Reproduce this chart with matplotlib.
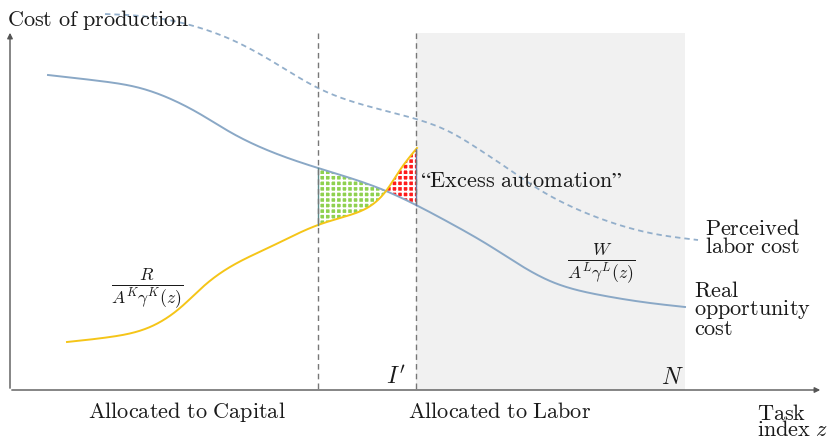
import numpy as np
import matplotlib
matplotlib.use("Agg")
import matplotlib.pyplot as plt

plt.rcParams['mathtext.fontset'] = 'cm'
plt.rcParams['hatch.linewidth'] = 1.4

# Data (in chart units: x = task index, y = cost; y measured downward from top as in picture)
real_x = [48, 100, 140, 173, 200, 230, 260, 318, 386, 416, 450, 490, 520, 550, 600, 650, 685]
real_y = [75, 81, 88, 100, 114, 132, 147, 168, 191, 205, 223, 246, 265, 281, 295, 303, 307]

perc_x = [105, 150, 190, 230, 270, 318, 416, 450, 480, 510, 540, 570, 610, 650, 698]
perc_y = [14, 17, 25, 39, 60, 88, 119, 132, 150, 170, 190, 206, 222, 233, 240]

cap_x = [67, 110, 150, 180, 205, 230, 270, 318, 350, 367, 386, 400, 417]
cap_y = [342, 337, 327, 308, 285, 267, 247, 225, 215, 208, 191, 170, 148]

I_old = 318
I_prime = 416
N = 685

fig = plt.figure(figsize=(8.27, 4.41), dpi=100)
ax = fig.add_axes([0, 0, 1, 1])
ax.set_xlim(0, 827)
ax.set_ylim(441, 0)
ax.axis('off')

ax.axvspan(I_prime, N, ymin=1 - 390/441, ymax=1 - 33/441, color='#f1f1f1', zorder=0, lw=0)

def smooth(xs, ys, n=500):
    """Natural cubic spline through the given points."""
    x = np.asarray(xs, float); y = np.asarray(ys, float)
    k = len(x)
    h = np.diff(x)
    A = np.zeros((k, k)); b = np.zeros(k)
    A[0, 0] = 1; A[-1, -1] = 1
    for i in range(1, k - 1):
        A[i, i-1] = h[i-1]; A[i, i] = 2*(h[i-1] + h[i]); A[i, i+1] = h[i]
        b[i] = 3*((y[i+1]-y[i])/h[i] - (y[i]-y[i-1])/h[i-1])
    c = np.linalg.solve(A, b)
    bb = (y[1:]-y[:-1])/h - h*(2*c[:-1] + c[1:])/3
    d = (c[1:] - c[:-1])/(3*h)
    t = np.linspace(x[0], x[-1], n)
    idx = np.clip(np.searchsorted(x, t) - 1, 0, k - 2)
    dx = t - x[idx]
    return t, y[idx] + bb[idx]*dx + c[idx]*dx**2 + d[idx]*dx**3

rx, ry = smooth(real_x, real_y)
px, py = smooth(perc_x, perc_y)
cx, cy = smooth(cap_x, cap_y)

blue = '#8aa8c6'
ax.plot(rx, ry, color=blue, lw=1.4, zorder=3)
ax.plot(px, py, color='#93afcb', lw=1.3, ls=(0, (3, 2.2)), zorder=3)
ax.plot(cx, cy, color='#f5c518', lw=1.4, zorder=3)

xs = np.linspace(I_old, I_prime, 300)
ryi = np.interp(xs, rx, ry)
cyi = np.interp(xs, cx, cy)
green_mask = cyi >= ryi - 0.5
red_mask = cyi <= ryi + 0.5
ax.fill_between(xs, ryi, cyi, where=green_mask, facecolor='#8fd14f', edgecolor='white',
                hatch='+++', lw=0, zorder=2)
ax.fill_between(xs, ryi, cyi, where=red_mask, facecolor='#ff1a1a', edgecolor='white',
                hatch='+++', lw=0, zorder=2)
ax.plot([I_old, I_old], [np.interp(I_old, rx, ry), np.interp(I_old, cx, cy)], color='#5a8a8a', lw=1, zorder=3)
ax.plot([I_prime, I_prime], [np.interp(I_prime, rx, ry), np.interp(I_prime, cx, cy)], color='#6a7aaa', lw=1, zorder=3)

for xv in (I_old, I_prime):
    ax.plot([xv, xv], [33, 390], color='#777777', lw=1, ls=(0, (4, 3)), zorder=4)

ax.annotate('', xy=(10, 30), xytext=(10, 391),
            arrowprops=dict(arrowstyle='-|>', color='#555555', lw=1, mutation_scale=8))
ax.annotate('', xy=(823, 390), xytext=(9, 390),
            arrowprops=dict(arrowstyle='-|>', color='#555555', lw=1, mutation_scale=8))

fs = 16
def T(x, y, s, **kw):
    ax.text(x, y, s, fontsize=kw.pop('fontsize', fs), color='#1a1a1a', **kw)

T(7, 20, r'$\mathrm{Cost\ of\ production}$', va='center', ha='left')
T(420, 181, r'$\mathrm{“Excess\ automation”}$', va='center', ha='left')
T(705, 238, r'$\mathrm{Perceived}$' + '\n' + r'$\mathrm{labor\ cost}$', va='center', ha='left', linespacing=0.85)
T(694, 310, r'$\mathrm{Real}$' + '\n' + r'$\mathrm{opportunity}$' + '\n' + r'$\mathrm{cost}$', va='center', ha='left', linespacing=0.85)
T(601, 264, r'$\frac{W}{A^L\gamma^L(z)}$', va='center', ha='center', fontsize=18)
T(147, 289, r'$\frac{R}{A^K\gamma^K(z)}$', va='center', ha='center', fontsize=18)
T(396, 377, r"$I'$", va='center', ha='center', fontsize=17)
T(672, 377, r'$N$', va='center', ha='center', fontsize=17)
T(187, 412, r'$\mathrm{Allocated\ to\ Capital}$', va='center', ha='center')
T(500, 412, r'$\mathrm{Allocated\ to\ Labor}$', va='center', ha='center')
T(757, 422, r'$\mathrm{Task}$' + '\n' + r'$\mathrm{index}\ z$', va='center', ha='left', linespacing=0.75)

fig.savefig('out.png', dpi=100)
